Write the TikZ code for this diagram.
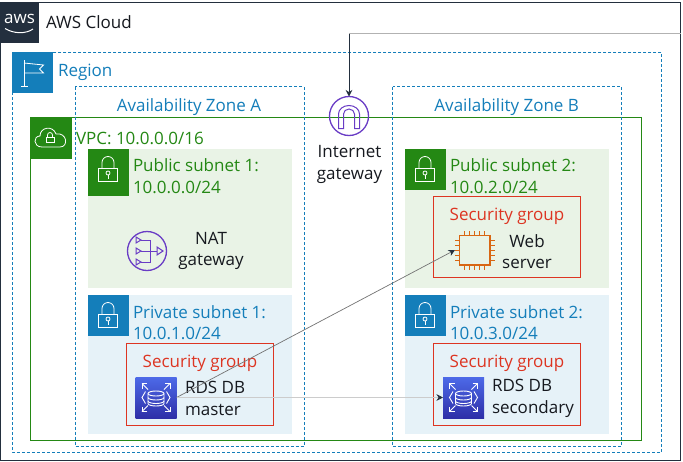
\documentclass[tikz,border=0pt]{standalone}
\usepackage{fontspec}
\setmainfont{Open Sans}
\usetikzlibrary{arrows.meta}
\definecolor{awsdark}{HTML}{232F3E}
\definecolor{awsblue}{HTML}{147EBA}
\definecolor{awsgreen}{HTML}{248814}
\definecolor{awsred}{HTML}{DD3522}
\definecolor{awsorange}{HTML}{D86613}
\definecolor{awspurple}{HTML}{693CC5}
\definecolor{rdstop}{HTML}{4D6AE8}
\definecolor{rdsbottom}{HTML}{2E2FA8}
\definecolor{greenfill}{HTML}{E9F3E6}
\definecolor{bluefill}{HTML}{E6F2F8}
\definecolor{inktext}{HTML}{16191F}
\tikzset{
    zonebox/.style={draw=awsblue, line width=0.9pt, dash pattern=on 3pt off 2pt},
    iconbox/.style={inner sep=0pt, outer sep=0pt, minimum size=41pt},
    label/.style={inner sep=0pt, outer sep=0pt, font=\fontsize{17}{21.5}\selectfont},
    roundicon/.style={circle, draw=awspurple, line width=1.3pt, inner sep=0pt, outer sep=0pt, minimum size=39pt},
    rdsbox/.style={iconbox, bottom color=rdsbottom, top color=rdstop},
    locksign/.pic={
        \draw[white, line width=0.8pt] (-9.5,-1) rectangle (9.5,12);
        \draw[white, line width=0.8pt] (-6,-1) -- (-6,-7) arc[start angle=180, end angle=360, radius=6] -- (6,-1);
        \draw[white, line width=0.8pt] (0,3.5) circle (2);
        \draw[white, line width=0.8pt] (0,5.5) -- (0,9);
    },
    rdssign/.pic={
        \draw[white, line width=0.9pt] (-8,-4) arc[start angle=180, end angle=360, x radius=8, y radius=2.5] -- (8,6) arc[start angle=0, end angle=180, x radius=8, y radius=2.5] -- cycle;
        \draw[white, line width=0.9pt] (-8,-4) arc[start angle=180, end angle=0, x radius=8, y radius=2.5];
        \draw[white, line width=0.9pt] (-8,0) arc[start angle=180, end angle=0, x radius=8, y radius=2.5];
        \draw[white, line width=0.9pt] (-8,3.5) arc[start angle=180, end angle=0, x radius=8, y radius=2.5];
        \draw[white, line width=0.9pt] (-10.5,-6) -- (-14,0) -- (-10.5,6);
        \draw[white, line width=0.9pt] (10.5,-6) -- (14,0) -- (10.5,6);
        \foreach \sx/\sy in {-1/-1, 1/-1, -1/1, 1/1} {
            \draw[white, line width=1pt] (\sx*8,\sy*8) -- (\sx*14,\sy*14);
            \draw[white, line width=1pt] (\sx*9,\sy*14) -- (\sx*14,\sy*14) -- (\sx*14,\sy*9);
        }
    },
}
\begin{document}
\begin{tikzpicture}[x=1pt, y=-1pt]
    \useasboundingbox (0,0) rectangle (683,461);
    \fill[white] (0,0) rectangle (683,461);

    % Outer cloud frame and its badge
    \draw[awsdark, line width=1pt] (0.5,2.5) rectangle (680.5,460);
    \node[iconbox, fill=awsdark, minimum width=39pt] (cloudicon) at (19.5,22.5) {};
    \node[inner sep=0pt, text=white, font=\fontsize{17}{17}\selectfont] (awsword) at (19.5,18.5) {aws};
    \draw[white, line width=1pt] (5,28.5) .. controls (14,34) and (26,34) .. (33,29);
    \node[label, anchor=west, text=inktext] (cloudlabel) at (46,22.5) {AWS Cloud};

    % Region frame
    \draw[zonebox] (12,52) rectangle (661.7,452);
    \node[iconbox, fill=awsblue] (regionicon) at (32.5,72) {};
    \draw[white, line width=0.8pt] (24,60) -- (24,86);
    \draw[white, line width=0.8pt] (21,86) -- (28,86);
    \draw[white, line width=0.8pt] (24,63) -- (43.5,65) -- (39.5,69) -- (43.5,73) -- (24,73);
    \node[label, anchor=west, text=awsblue] (regionlabel) at (58,72) {Region};

    % VPC frame, drawn before the zones so that the dashes stay on top
    \draw[awsgreen, line width=1pt] (30.5,117.5) rectangle (641.7,440);
    \node[iconbox, fill=awsgreen] (vpcicon) at (51,138) {};
    \draw[white, line width=0.8pt] (42,147) .. controls (33,147) and (33,136) .. (40,136)
        .. controls (40,127) and (53,125) .. (56,134)
        .. controls (67,132) and (69,147) .. (60,147) -- cycle;
    \draw[white, line width=0.8pt] (46,137) rectangle (54,142.5);
    \draw[white, line width=0.8pt] (47.5,137) -- (47.5,135) arc[start angle=180, end angle=360, radius=2.5] -- (52.5,137);

    % Subnet panels
    \fill[greenfill] (88,149) rectangle (292,288);
    \fill[greenfill] (405,149) rectangle (609,288);
    \fill[bluefill] (88,295) rectangle (292,433.7);
    \fill[bluefill] (405,295) rectangle (609,433.7);

    % Availability zones
    \draw[zonebox] (75,86.5) rectangle (304,446);
    \draw[zonebox] (392.5,86.5) rectangle (621.7,446);
    \node[label, text=awsblue] (zonealabel) at (189,107) {Availability Zone A};
    \node[label, text=awsblue] (zoneblabel) at (506.7,107) {Availability Zone B};
    \node[label, anchor=west, text=awsgreen] (vpclabel) at (76,138) {VPC: 10.0.0.0/16};

    % Subnet badges
    \node[iconbox, fill=awsgreen, minimum width=41pt, minimum height=47pt] (pubicona) at (108.5,172.5) {};
    \node[iconbox, fill=awsgreen] (pubiconb) at (425.5,169.5) {};
    \node[iconbox, fill=awsblue] (privicona) at (108.5,315.5) {};
    \node[iconbox, fill=awsblue] (priviconb) at (425.5,315.5) {};
    \pic at (108,169.5) {locksign};
    \pic at (425,169.5) {locksign};
    \pic at (108,315.5) {locksign};
    \pic at (425,315.5) {locksign};

    % Subnet labels
    \node[label, anchor=west, align=left, text=awsgreen] (publabela) at (133,176) {Public subnet 1:\\10.0.0.0/24};
    \node[label, anchor=west, align=left, text=awsgreen] (publabelb) at (450,176) {Public subnet 2:\\10.0.2.0/24};
    \node[label, anchor=west, align=left, text=awsblue] (privlabela) at (133,322.5) {Private subnet 1:\\10.0.1.0/24};
    \node[label, anchor=west, align=left, text=awsblue] (privlabelb) at (450,322.5) {Private subnet 2:\\10.0.3.0/24};

    % Security groups
    \draw[awsred, line width=1pt] (433.3,196) rectangle (580.3,277.7);
    \draw[awsred, line width=1pt] (126.3,343.3) rectangle (273.3,425);
    \draw[awsred, line width=1pt] (433.3,343.3) rectangle (580.3,425);
    \node[label, text=awsred] (sgweb) at (507,216) {Security group};
    \node[label, text=awsred] (sgmaster) at (200,363) {Security group};
    \node[label, text=awsred] (sgsecondary) at (507,363) {Security group};

    % Internet gateway
    \node[roundicon] (igw) at (349,116) {};
    \draw[awspurple, line width=1pt] (338.5,128.5) -- (338.5,114) arc[start angle=180, end angle=360, x radius=10.5, y radius=8.5]
        -- (359.5,128.5) -- (354.5,128.5) -- (354.5,114) arc[start angle=360, end angle=180, x radius=5.5, y radius=5] -- (343.5,128.5) -- cycle;
    \node[label, align=center, text=inktext] (igwlabel) at (349.5,164.5) {Internet\\gateway};

    % NAT gateway
    \node[roundicon] (nat) at (147,251) {};
    \draw[awspurple, line width=1pt] (136,237) -- (141,240) -- (136,243) -- cycle;
    \draw[awspurple, line width=1pt] (136,248) -- (141,251) -- (136,254) -- cycle;
    \draw[awspurple, line width=1pt] (136,259) -- (141,262) -- (136,265) -- cycle;
    \draw[awspurple, line width=1pt] (141,240) -- (150,240) -- (150,262) -- (141,262);
    \draw[awspurple, line width=1pt] (141,251) -- (157,251);
    \draw[awspurple, line width=1pt] (157,247) -- (163,251) -- (157,255) -- cycle;
    \node[label, align=center, text=inktext] (natlabel) at (211,251) {NAT\\gateway};

    % Web server
    \node[inner sep=0pt, outer sep=0pt, minimum width=39pt, minimum height=38pt] (webchip) at (474.5,250) {};
    \draw[awsorange, line width=1.5pt] (459.5,235.7) rectangle (490,265);
    \foreach \pin in {-10,-5,0,5,10} {
        \draw[awsorange, line width=1pt] (474.7+\pin,231) -- (474.7+\pin,235.7);
        \draw[awsorange, line width=1pt] (474.7+\pin,265) -- (474.7+\pin,269.5);
        \draw[awsorange, line width=1pt] (455,250.3+\pin) -- (459.5,250.3+\pin);
        \draw[awsorange, line width=1pt] (490,250.3+\pin) -- (494.5,250.3+\pin);
    }
    \node[label, align=center, text=inktext] (weblabel) at (527,251.5) {Web\\server};

    % Databases
    \node[rdsbox] (master) at (156,397.5) {};
    \node[rdsbox] (secondary) at (463.5,397.5) {};
    \pic at (master) {rdssign};
    \pic at (secondary) {rdssign};
    \node[label, anchor=west, align=left, text=inktext] (masterlabel) at (185,398.5) {RDS DB\\master};
    \node[label, anchor=west, align=left, text=inktext] (secondarylabel) at (492,398.5) {RDS DB\\secondary};

    % Connectors
    \coordinate (gwsource) at (681,33.5);
    \coordinate (gwturn) at (349,33.5);
    \draw[black!30, line width=0.8pt] (gwsource) -- (gwturn);
    \draw[awsdark, line width=0.8pt, -{Stealth[length=6.5pt, width=6.5pt]}] (gwturn) -- (igw.north);
    \draw[black!55, line width=0.7pt, -{Stealth[length=6.5pt, width=6.5pt, color=awsdark]}] (master.east) -- (webchip.west);
    \draw[black!20, line width=0.7pt, -{Stealth[length=6.5pt, width=6.5pt, color=awsdark]}] (master.east) -- (secondary.west);
\end{tikzpicture}
\end{document}
